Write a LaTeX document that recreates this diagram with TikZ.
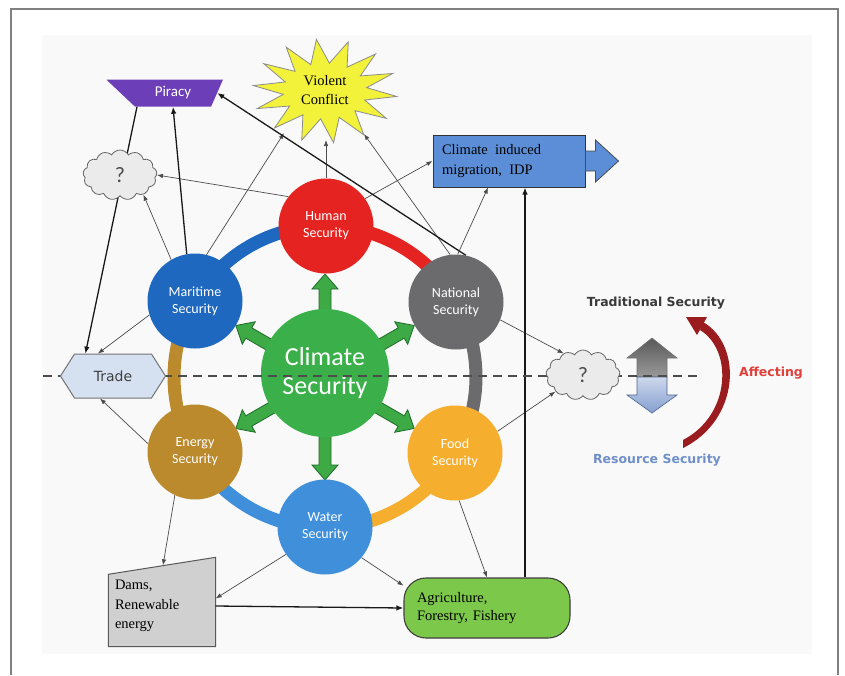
\documentclass[tikz,border=0pt]{standalone}
\usepackage{fontspec}
\setmainfont{Liberation Serif}
\setsansfont{Carlito}
\newfontfamily\labelfont{DejaVu Sans}
\usetikzlibrary{shapes.geometric,shapes.symbols,arrows.meta}

\pgfdeclarelayer{bg}
\pgfdeclarelayer{back}
\pgfsetlayers{bg,back,main}

\definecolor{humanred}{HTML}{E52421}
\definecolor{maritimeblue}{HTML}{1E68BF}
\definecolor{nationalgrey}{HTML}{6B6B6D}
\definecolor{energybrown}{HTML}{BA8A2C}
\definecolor{foodorange}{HTML}{F5AE2E}
\definecolor{waterblue}{HTML}{3F8FDB}
\definecolor{climgreen}{HTML}{3BB04A}
\definecolor{arrowgreen}{HTML}{3DAA45}
\definecolor{arrowedge}{HTML}{1F6B2A}
\definecolor{piracyviolet}{HTML}{6C3EB8}
\definecolor{staryellow}{HTML}{F2F23A}
\definecolor{migblue}{HTML}{5B8ED6}
\definecolor{tradeblue}{HTML}{D5E0F0}
\definecolor{damgrey}{HTML}{D0D0D0}
\definecolor{agrigreen}{HTML}{7CC84A}
\definecolor{bendred}{HTML}{9A1C1F}
\definecolor{affred}{HTML}{E0403A}
\definecolor{tradgrey}{HTML}{3A3A3A}
\definecolor{resblue}{HTML}{6F8FC8}
\definecolor{panel}{HTML}{F9F9F9}

\tikzset{
  sec/.style={circle, minimum size=95pt, inner sep=0pt, text=white, align=center,
    font=\sffamily\fontsize{14}{17}\selectfont},
  ring/.style={line width=13pt},
  link/.style={color=black!70, line width=0.7pt, -{Latex[length=6pt,width=4.5pt]}},
  boldlink/.style={color=black!90, line width=1.3pt, -{Latex[length=7pt,width=5.5pt]}},
  greenarrow/.style={fill=arrowgreen, draw=arrowedge, line width=0.8pt},
  serifbox/.style={font=\fontsize{14.5}{20}\selectfont, align=left, draw=black!80, line width=1pt},
  qcloud/.style={cloud, cloud puffs=13, cloud puff arc=120, aspect=1.5, draw=black!60,
    fill=black!8, minimum width=74pt, minimum height=50pt, line width=0.8pt,
    font=\sffamily\fontsize{22}{22}\selectfont, text=black!70},
  dashline/.style={draw=black!70, line width=2.2pt, dash pattern=on 9pt off 6pt},
  sidelabel/.style={font=\labelfont\bfseries\fontsize{12.5}{14}\selectfont},
}

\begin{document}
\begin{tikzpicture}[x=1pt,y=-1pt]
  \useasboundingbox (0,0) rectangle (845,675);
  \begin{pgfonlayer}{bg}
    \fill[white] (0,0) rectangle (845,675);
    \fill[panel] (42,35) rectangle (812,654);
    \draw[black!50, line width=1.2pt] (11,675) -- (11,9) -- (838,9) -- (838,675);
  \end{pgfonlayer}

  \coordinate (hub) at (325,377);

  % green arrows out of the centre
  \foreach \a in {30,90,...,330}
    \draw[greenarrow, shift={(hub)}, rotate=\a] (56,-6) -- (88,-6) -- (88,-13) -- (103,0)
      -- (88,13) -- (88,6) -- (56,6) -- cycle;

  \node[sec, fill=climgreen, minimum size=128pt, font=\sffamily\fontsize{26}{29}\selectfont] (climate) at (325,373) {Climate\\Security};
  \node[sec, fill=humanred] (human) at (326,226) {Human\\Security};
  \node[sec, fill=maritimeblue] (maritime) at (195,301) {Maritime\\Security};
  \node[sec, fill=nationalgrey] (national) at (456,302) {National\\Security};
  \node[sec, fill=energybrown] (energy) at (195,452) {Energy\\Security};
  \node[sec, fill=foodorange] (food) at (455,453) {Food\\Security};
  \node[sec, fill=waterblue] (water) at (325,527) {Water\\Security};

  % violent conflict star
  \draw[fill=staryellow, draw=black!45, line width=0.8pt]
    plot[samples at={0,...,27}, variable=\k]
    ({325+ifthenelse(mod(\k,2)==0,72,42)*cos(\k*360/28+6)}, {91+ifthenelse(mod(\k,2)==0,52,28)*sin(\k*360/28+6)}) -- cycle;
  \node[font=\fontsize{14.5}{19}\selectfont, align=center] (conflict) at (325,90) {Violent\\Conflict};
  \coordinate (conflict-s) at (326,140);
  \coordinate (conflict-sw) at (284,133);
  \coordinate (conflict-se) at (364,134);

  \node[trapezium, shape border rotate=180, trapezium stretches=true, trapezium left angle=66,
    trapezium right angle=43, minimum width=117pt, minimum height=27pt, inner sep=0pt,
    fill=piracyviolet, text=white, font=\sffamily\fontsize{15}{15}\selectfont] (piracy) at (173,93) {Piracy};

  \node[serifbox, fill=migblue, minimum width=152pt, minimum height=52pt, text width=134pt] (migration) at (509,161) {Climate\enspace induced\\migration,\enspace IDP};
  \draw[fill=migblue, draw=black!70, line width=0.8pt] (migration.east) ++(0,-10) -- ++(10,0) -- ++(0,-11)
    -- ++(23,21) -- ++(-23,21) -- ++(0,-11) -- ++(-10,0) -- cycle;

  \node[font=\fontsize{14.5}{19.5}\selectfont, align=left, text width=94pt, minimum width=107pt,
    minimum height=81pt, inner sep=0pt] (dams) at (162,606) {Dams,\\Renewable\\energy};
  \node[rectangle, rounded corners=22pt, fill=agrigreen, draw=black!75, line width=1.1pt,
    minimum width=166pt, minimum height=60pt, text width=140pt, align=left,
    font=\fontsize{14.5}{18.5}\selectfont] (agri) at (487,608) {Agriculture,\\Forestry, Fishery};
  \coordinate (agritop) at ([xshift=38pt]agri.north);

  % traditional / resource arrows
  \shade[top color=black!65, bottom color=black!40, draw=black!55, line width=0.6pt]
    (637,377) -- (637,358) -- (627,358) -- (652,338) -- (677,358) -- (667,358) -- (667,377) -- cycle;
  \shade[top color=resblue!35, bottom color=resblue!85, draw=resblue!70!black, line width=0.6pt]
    (637,377) -- (637,395) -- (627,395) -- (652,413) -- (677,395) -- (667,395) -- (667,377) -- cycle;
  \fill[bendred] (683,448) .. controls (740,420) and (743,345) .. (703,322)
    -- (700,330) .. controls (733,350) and (731,415) .. (683,440) -- cycle;
  \fill[bendred] (707,317) -- (686,317) -- (697,335) -- cycle;

  \draw[dashline] (43,376) -- (702,376);

  \node[signal, signal to=east and west, signal pointer angle=115, minimum width=105pt,
    minimum height=44pt, fill=tradeblue, draw=black!55, line width=1pt,
    font=\labelfont\fontsize{14}{14}\selectfont, text=black!75] (trade) at (113,376) {Trade};
  \node[qcloud] (qleft) at (120,175) {?};
  \node[qcloud] (qright) at (583,375) {?};

  \node[sidelabel, text=tradgrey] (traditional) at (656,303) {Traditional Security};
  \node[sidelabel, text=resblue] (resource) at (657,460) {Resource Security};
  \node[sidelabel, text=affred] (affecting) at (771,373) {Affecting};

  \begin{pgfonlayer}{back}
    % ring joining the six securities
    \foreach \a/\c in {270/humanred, 330/nationalgrey, 30/foodorange, 90/waterblue, 150/energybrown, 210/maritimeblue}
      \draw[ring, draw=\c] (hub) ++(\a:151) arc[start angle=\a, end angle=\a+60, radius=151];
    \draw[fill=damgrey, draw=black!65, line width=1pt] ([yshift=-9pt]dams.north west)
      -- ([yshift=8pt]dams.north east) -- (dams.south east) -- (dams.south west) -- cycle;

    \path[link] (human.north) edge (conflict-s);
    \path[link] (human.142) edge (qleft.east);
    \path[link] (human.35) edge (migration.west);
    %
    \path[boldlink] (maritime.100) edge (piracy.south);
    \path[link] (maritime.120) edge (qleft.-40);
    \path[link] (maritime.76) edge (conflict-sw);
    \path[link] (maritime.197) edge (trade.124);
    \path[boldlink] ([xshift=-36pt]piracy.south) edge (trade.141);
    %
    \path[link] (national.97) edge (conflict-se);
    \path[boldlink] (national.78) edge (piracy.east);
    \path[link] (national.88) edge ([xshift=-21pt]migration.south);
    \path[link] (national.-22) edge (qright.132);
    %
    \path[link] (food.27) edge (qright.211);
    \path[link] (food.-85) edge (agri.north);
    \path[link] (energy.170) edge (trade.240);
    \path[link] (energy.245) edge ([xshift=1pt]dams.north);
    %
    \path[link] (water.215) edge (dams.8);
    \path[link] (water.-40) edge (agri.165);
    \path[boldlink] (dams.east) edge (agri.west);
    \path[boldlink] (agritop) edge (agritop |- migration.south);
  \end{pgfonlayer}
\end{tikzpicture}
\end{document}
